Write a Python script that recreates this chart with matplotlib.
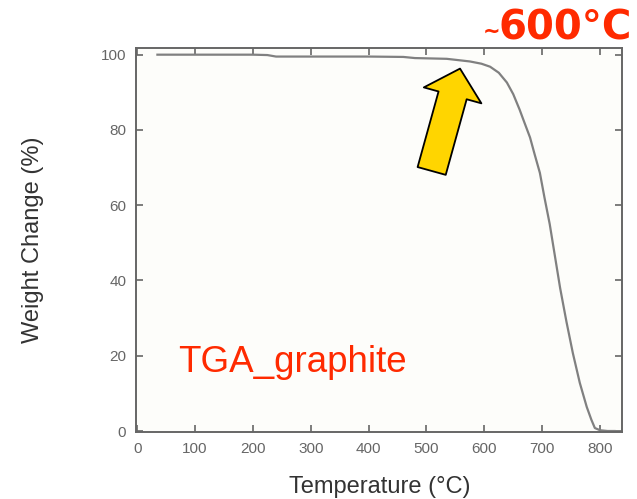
import matplotlib
matplotlib.use("Agg")
import matplotlib.pyplot as plt

# TGA curve of graphite
temperature = [35, 100, 200, 225, 240, 300, 400, 460, 480, 535, 575, 595, 610, 625, 639,
               650, 661, 668, 679, 687, 696, 704, 713, 722, 731, 742, 753, 765, 777,
               785, 791, 800, 813, 825]
weight = [100, 100, 100, 99.9, 99.5, 99.5, 99.5, 99.4, 99.1, 98.9, 98.2, 97.6, 96.8, 95.2, 92.6,
          89.5, 85.4, 82.5, 78, 73.5, 68.6, 62, 55, 46.5, 38, 29, 20.7, 12.8, 6.4,
          3, 0.8, 0.2, 0, 0]
x_ticks = [0, 100, 200, 300, 400, 500, 600, 700, 800]
y_ticks = [0, 20, 40, 60, 80, 100]

red = '#ff2a00'
plt.rcParams['font.family'] = ['Liberation Sans', 'DejaVu Sans']

fig = plt.figure(figsize=(6.37, 4.99), dpi=100)
ax = fig.add_axes([0.2135, 0.134, 0.763, 0.770])
ax.set_facecolor('#fdfdfa')

ax.plot(temperature, weight, color='#808080', lw=1.6)

ax.set_xlim(-2, 838)
ax.set_ylim(-0.3, 101.8)
ax.set_xticks(x_ticks)
ax.set_yticks(y_ticks)
ax.tick_params(direction='in', length=5, width=1.2, color='#666666',
               top=True, right=True, labelsize=11, labelcolor='#666666', pad=7)
for s in ax.spines.values():
    s.set_color('#666666')
    s.set_linewidth(1.4)

ax.set_xlabel('Temperature (°C)', fontsize=17, color='#333333')
ax.set_ylabel('Weight Change (%)', fontsize=17, color='#333333')
ax.xaxis.set_label_coords(0.502, -0.115)
ax.yaxis.set_label_coords(-0.19, 0.5)

ax.text(0.086, 0.156, 'TGA_graphite', transform=ax.transAxes, fontsize=26.5,
        color=red, ha='left', va='baseline')

# yellow arrow pointing at the onset
ax.annotate('', xy=(558, 96.3), xytext=(509, 69.1),
            arrowprops=dict(arrowstyle='simple,head_length=20,head_width=43,tail_width=21',
                            fc='#ffd500', ec='black', lw=1.3, shrinkA=0, shrinkB=0,
                            mutation_scale=1))

fig.text(0.992, 0.92, '600°C', fontsize=29, fontweight='bold', family='DejaVu Sans',
         color=red, ha='right', va='baseline')
fig.text(0.771, 0.925, '~', fontsize=15, fontweight='bold', family='DejaVu Sans',
         color=red, ha='center', va='baseline')

fig.savefig('out.png', dpi=100, facecolor='white')
